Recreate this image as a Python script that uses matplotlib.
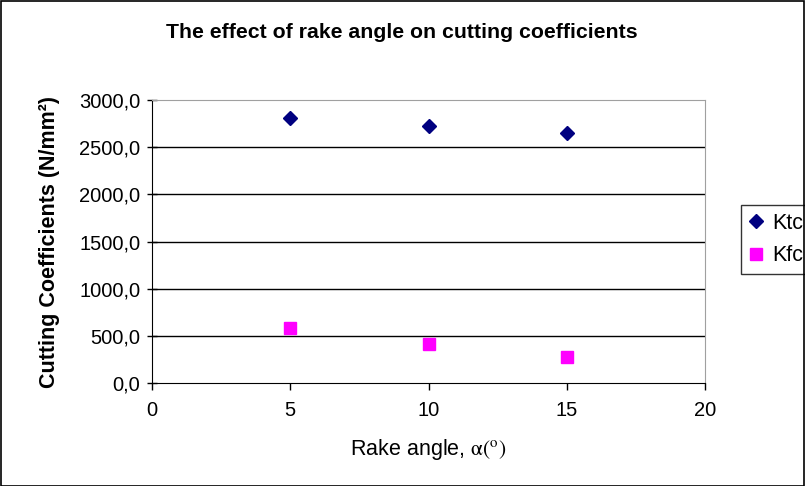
import matplotlib
matplotlib.use('Agg')
import matplotlib.pyplot as plt
import matplotlib.patches as mpatches
from matplotlib.ticker import FuncFormatter

plt.rcParams['font.family'] = ['Liberation Sans', 'DejaVu Sans']
plt.rcParams['mathtext.fontset'] = 'stix'

# data
rake_angle = [5, 10, 15]
ktc = [2805, 2720, 2650]
kfc = [585, 410, 280]
x_ticks = [0, 5, 10, 15, 20]
y_ticks = [0, 500, 1000, 1500, 2000, 2500, 3000]

fig = plt.figure(figsize=(8.05, 4.86), dpi=100)
ax = fig.add_axes([152 / 805, 1 - 383 / 486, 553 / 805, 283 / 486])

ax.plot(rake_angle, ktc, linestyle='none', marker='D', ms=7.2,
        color='#000080', label='Ktc')
ax.plot(rake_angle, kfc, linestyle='none', marker='s', ms=8.5,
        color='#FF00FF', label='Kfc')

ax.set_xlim(0, 20)
ax.set_ylim(0, 3000)
ax.set_xticks(x_ticks)
ax.set_yticks(y_ticks)
ax.yaxis.set_major_formatter(FuncFormatter(lambda v, p: f'{v:.1f}'.replace('.', ',')))
ax.tick_params(axis='y', direction='inout', length=7, width=1, labelsize=14.5, pad=5)
ax.tick_params(axis='x', direction='out', length=5, width=1, labelsize=14.5, pad=8)

for y in y_ticks[1:-1]:
    ax.axhline(y, color='black', lw=1, zorder=1)

for s in ['top', 'right']:
    ax.spines[s].set_color('#a0a0a0')
for s in ['left', 'bottom']:
    ax.spines[s].set_color('black')

fig.text(402 / 805, 1 - 32 / 486, 'The effect of rake angle on cutting coefficients',
         fontsize=15.3, fontweight='bold', ha='center', va='center')
ax.set_xlabel(r'Rake angle, $\mathrm{\alpha(^o)}$', fontsize=15.5, labelpad=12)
ax.set_ylabel('Cutting Coefficients (N/mm²)', fontsize=15.5,
              fontweight='bold', labelpad=14)

leg = ax.legend(loc='upper left', bbox_to_anchor=(741 / 805, 1 - 205 / 486),
                bbox_transform=fig.transFigure, frameon=True, fancybox=False,
                edgecolor='black', fontsize=15.5, handlelength=0.7,
                handletextpad=0.4, borderpad=0.35, labelspacing=0.55,
                borderaxespad=0)
leg.get_frame().set_linewidth(1)

# outer chart border
fig.patches.append(mpatches.Rectangle((0.001, 0.001), 0.998, 0.997,
                                      transform=fig.transFigure, fill=False,
                                      edgecolor='black', lw=1.2))

fig.savefig('out.png', dpi=100)
